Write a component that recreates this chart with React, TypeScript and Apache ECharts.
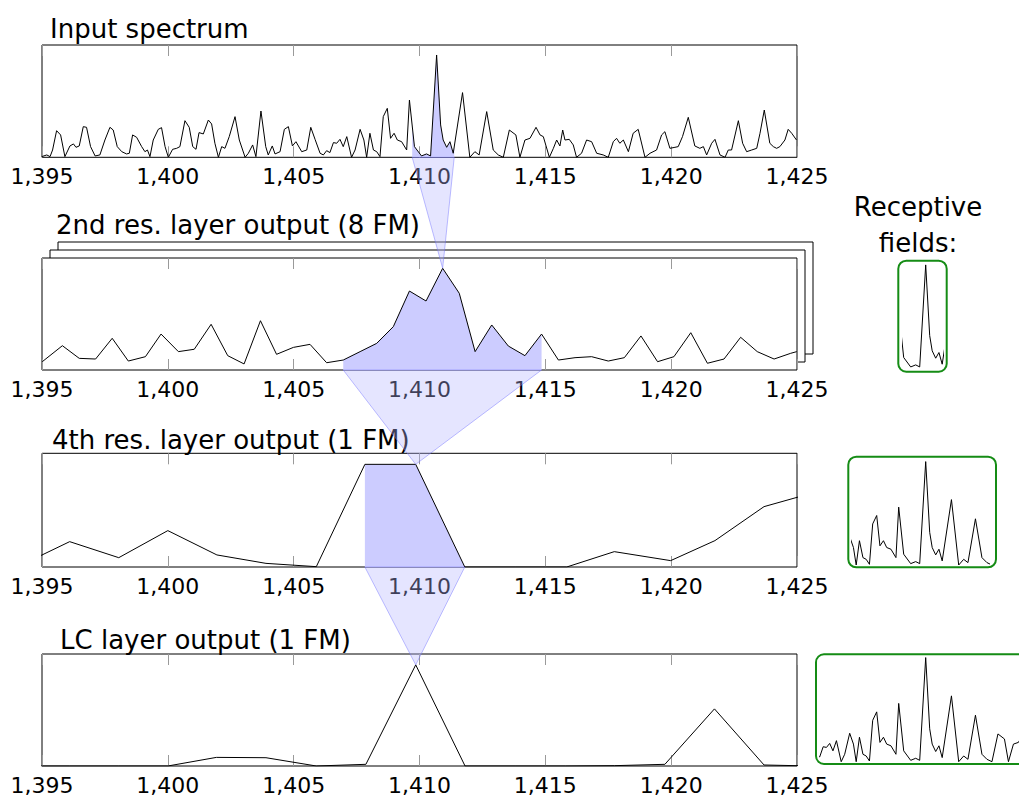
import React, { useEffect, useRef } from "react";
import * as echarts from "echarts";

// ---------------- data ----------------
const X_MIN = 1395;
const X_MAX = 1425;
const X_STEP = 5;

const spectrumX = [
  1394.99, 1395.19, 1395.32, 1395.42, 1395.58, 1395.74, 1395.91, 1396.11, 1396.25, 1396.35,
  1396.48, 1396.64, 1396.77, 1396.93, 1397.11, 1397.3, 1397.5, 1397.7, 1397.83, 1397.99,
  1398.17, 1398.36, 1398.47, 1398.6, 1398.76, 1398.96, 1399.09, 1399.19, 1399.29, 1399.42,
  1399.62, 1399.75, 1399.89, 1400.02, 1400.19, 1400.35, 1400.48, 1400.68, 1400.85, 1400.99,
  1401.12, 1401.24, 1401.41, 1401.61, 1401.74, 1401.87, 1402.01, 1402.14, 1402.27, 1402.44,
  1402.67, 1402.84, 1403.07, 1403.2, 1403.37, 1403.5, 1403.7, 1403.89, 1403.99, 1404.15,
  1404.26, 1404.46, 1404.63, 1404.79, 1404.95, 1405.09, 1405.32, 1405.52, 1405.68, 1405.85,
  1406.05, 1406.18, 1406.31, 1406.44, 1406.58, 1406.71, 1406.84, 1406.97, 1407.11, 1407.3,
  1407.44, 1407.64, 1407.79, 1407.9, 1408.03, 1408.17, 1408.3, 1408.43, 1408.56, 1408.72,
  1408.85, 1408.99, 1409.12, 1409.29, 1409.49, 1409.6, 1409.8, 1410.08, 1410.28, 1410.44,
  1410.68, 1410.84, 1410.94, 1411.08, 1411.21, 1411.34, 1411.71, 1412.0, 1412.2, 1412.37,
  1412.67, 1412.93, 1413.13, 1413.33, 1413.57, 1413.83, 1413.99, 1414.19, 1414.39, 1414.63,
  1414.79, 1414.92, 1415.16, 1415.32, 1415.45, 1415.58, 1415.69, 1415.78, 1415.95, 1416.11,
  1416.24, 1416.44, 1416.64, 1416.84, 1417.04, 1417.3, 1417.5, 1417.7, 1417.83, 1417.96,
  1418.1, 1418.3, 1418.49, 1418.69, 1418.96, 1419.16, 1419.42, 1419.62, 1419.75, 1419.95,
  1420.15, 1420.28, 1420.45, 1420.68, 1420.94, 1421.14, 1421.28, 1421.41, 1421.61, 1421.74,
  1421.94, 1422.14, 1422.27, 1422.4, 1422.67, 1422.84, 1423.0, 1423.2, 1423.4, 1423.53,
  1423.7, 1423.92, 1424.06, 1424.19, 1424.32, 1424.52, 1424.65, 1424.79, 1424.98,
];
const spectrumY = [
  0.6, 2.1, 0.6, 6.5, 23.7, 19.9, 0.6, 10.1, 11.9, 8.9,
  10.1, 27.3, 26.7, 9.5, 1.2, 2.1, 15.4, 26.7, 24.3, 9.5,
  5.0, 3.0, 3.6, 19.9, 17.8, 9.5, 5.0, 6.5, 0.6, 15.4,
  24.9, 26.4, 9.5, 0, 7.1, 8.0, 9.5, 32.6, 26.7, 9.5,
  7.1, 22.0, 20.8, 33.2, 29.7, 12.5, 0, 9.5, 8.0, 18.4,
  36.2, 15.4, 0, 3.6, 11.0, 0.6, 41.2, 9.5, 2.1, 10.1,
  3.0, 5.0, 24.9, 27.3, 10.1, 13.9, 5.0, 6.5, 26.7, 16.0,
  3.6, 2.1, 5.9, 4.2, 13.1, 12.5, 16.0, 9.5, 18.4, 0,
  6.5, 24.9, 15.4, 0, 21.4, 6.5, 5.0, 0.6, 36.2, 43.6,
  16.9, 21.4, 15.4, 13.9, 6.5, 51.0, 9.5, 1.2, 3.0, 1.2,
  91.1, 28.8, 15.4, 8.9, 13.9, 3.6, 57.6, 0, 5.0, 2.1,
  40.7, 6.5, 2.1, 0, 24.3, 19.9, 0, 15.4, 16.9, 26.7,
  19.9, 18.4, 0, 8.0, 15.4, 10.1, 24.3, 15.4, 16.0, 11.0,
  0, 3.6, 15.4, 13.9, 3.6, 2.1, 0, 13.9, 16.9, 12.5,
  15.4, 5.0, 21.4, 24.9, 0, 3.6, 6.5, 19.9, 22.8, 8.0,
  8.9, 9.5, 18.4, 35.6, 10.1, 8.0, 9.5, 2.1, 12.5, 16.0,
  2.1, 0, 6.5, 6.5, 32.6, 12.5, 5.0, 6.5, 8.0, 21.4,
  42.1, 12.5, 9.5, 8.0, 9.5, 15.4, 24.9, 21.4, 15.4,
];

const layer2X = [
  1395.01, 1395.81, 1396.48, 1397.13, 1397.79, 1398.43, 1399.11, 1399.73, 1400.42, 1401.05,
  1401.72, 1402.38, 1403.03, 1403.68, 1404.32, 1404.99, 1405.65, 1406.31, 1406.97, 1407.64,
  1408.3, 1408.96, 1409.6, 1410.26, 1410.92, 1411.58, 1412.21, 1412.87, 1413.53, 1414.19,
  1414.85, 1415.52, 1416.18, 1416.84, 1417.5, 1418.14, 1418.8, 1419.46, 1420.11, 1420.78,
  1421.44, 1422.1, 1422.76, 1423.42, 1424.09, 1424.75, 1424.99,
];
const layer2Y = [
  7.4, 21.7, 10.4, 9.8, 28.3, 8.0, 11.9, 32.1, 16.4, 18.5,
  40.8, 12.8, 5.4, 44.0, 14.0, 20.2, 22.9, 6.5, 8.9, 16.4,
  23.8, 38.7, 70.5, 61.6, 90.8, 68.5, 16.4, 40.2, 21.4, 12.8,
  32.1, 8.9, 11.0, 11.9, 8.0, 11.0, 30.4, 7.4, 11.9, 33.3,
  6.0, 9.8, 29.2, 16.4, 9.8, 14.9, 16.4,
];

const layer4X = [
  1394.15, 1396.1, 1398.05, 1400.0, 1401.95, 1403.9, 1405.9, 1407.83, 1409.85, 1411.8,
  1413.8, 1415.85, 1417.74, 1419.98, 1421.74, 1423.69, 1425.6,
];
const layer4Y = [1.5, 22.3, 8.2, 32.0, 10.6, 3.2, 0.3, 90.3, 90.3, 0, 0, 0, 13.5, 5.6, 23.2, 53.1, 65];

const lcX = [
  1394.15, 1396.1, 1398.05, 1400.0, 1401.93, 1403.9, 1405.9, 1407.87, 1409.85, 1411.81,
  1413.8, 1415.8, 1417.75, 1419.75, 1421.72, 1423.69, 1425.6,
];
const lcY = [0, 0, 0, 0, 7.7, 7.4, 0, 1.5, 90.3, 0, 0, 0, 0.3, 1.5, 51.0, 0.9, 0];

const panelTitles = [
  "Input spectrum",
  "2nd res. layer output (8 FM)",
  "4th res. layer output (1 FM)",
  "LC layer output (1 FM)",
];
const receptiveLabel = ["Receptive", "fields:"];

// receptive-field range of the highlighted unit, in each source panel
const highlightRanges = [
  [1409.71, 1411.38],
  [1406.97, 1414.85],
  [1407.83, 1411.8],
];
// highlighted unit in the next panel
const apexX = [1410.92, 1409.85, 1409.85];
// spectrum range shown in each receptive-field inset
const insetRanges = [
  [1409.76, 1411.36],
  [1407.75, 1413.2],
  [1406.45, 1414.4],
];

// ---------------- layout ----------------
const FONT = '"DejaVu Sans", "Noto Sans", sans-serif';
const PANEL_LEFT = 42;
const PANEL_WIDTH = 755;
const panelTops = [45, 258, 453.3, 654];
const panelHeights = [112.3, 112, 113.7, 113];
const titlePos = [
  [50, 29],
  [56, 225],
  [52, 440],
  [60, 640],
];
const insetGrids = [
  { left: 902.7, top: 254.8, width: 40, height: 113.5 },
  { left: 852.45, top: 451.5, width: 136.25, height: 113.5 },
  { left: 819.95, top: 647.4, width: 198.75, height: 114.3 },
];
const insetBoxes = [
  { x: 898.3, y: 260.7, w: 48.4, h: 111 },
  { x: 848.3, y: 456.7, w: 147.7, h: 110.6 },
  { x: 816, y: 654.3, w: 240, h: 109.7 },
];

// ---------------- helpers ----------------
const pairs = (xs: number[], ys: number[]) => xs.map((x, i) => [x, ys[i]]);
function interp(xs: number[], ys: number[], x: number) {
  for (let i = 0; i < xs.length - 1; i++) {
    if (x >= xs[i] && x <= xs[i + 1]) {
      return ys[i] + ((ys[i + 1] - ys[i]) * (x - xs[i])) / (xs[i + 1] - xs[i]);
    }
  }
  return x < xs[0] ? ys[0] : ys[ys.length - 1];
}
function segment(xs: number[], ys: number[], lo: number, hi: number) {
  const pts: number[][] = [[lo, interp(xs, ys, lo)]];
  xs.forEach((x, i) => {
    if (x > lo + 1e-6 && x < hi - 1e-6) pts.push([x, ys[i]]);
  });
  pts.push([hi, interp(xs, ys, hi)]);
  return pts;
}
const fmt = (v: number) => String(v).replace(/\B(?=(\d{3})+(?!\d))/g, ",");

const panelData = [
  [spectrumX, spectrumY],
  [layer2X, layer2Y],
  [layer4X, layer4Y],
  [lcX, lcY],
];

function buildOption(): any {
  const grids: any[] = [];
  const xAxes: any[] = [];
  const yAxes: any[] = [];
  const series: any[] = [];

  panelTops.forEach((top, i) => {
    grids.push({
      left: PANEL_LEFT,
      top,
      width: PANEL_WIDTH,
      height: panelHeights[i],
      show: true,
      borderColor: "#000",
      borderWidth: 1,
      backgroundColor: "#fff",
      containLabel: false,
    });
  });
  insetGrids.forEach((g) => grids.push({ ...g, show: false, containLabel: false }));

  const tickAxis = (gridIndex: number, position: string, labels: boolean) => ({
    type: "value",
    gridIndex,
    position,
    min: X_MIN,
    max: X_MAX,
    interval: X_STEP,
    axisLine: { show: false },
    axisTick: { show: true, inside: true, length: 11, lineStyle: { color: "#9a9a9a", width: 1 } },
    splitLine: { show: false },
    axisLabel: labels
      ? { show: true, formatter: fmt, fontSize: 22, color: "#000", fontFamily: FONT, margin: 8 }
      : { show: false },
  });
  for (let i = 0; i < 4; i++) xAxes.push(tickAxis(i, "bottom", true));
  for (let i = 0; i < 4; i++) xAxes.push(tickAxis(i, "top", false));
  insetRanges.forEach((r, k) => {
    xAxes.push({ type: "value", gridIndex: 4 + k, min: r[0], max: r[1], show: false });
  });
  for (let i = 0; i < 7; i++) {
    yAxes.push({ type: "value", gridIndex: i, min: 0, max: 100, show: false });
  }

  panelData.forEach(([xs, ys], i) => {
    if (i < 3) {
      const [lo, hi] = highlightRanges[i];
      series.push({
        type: "line",
        xAxisIndex: i,
        yAxisIndex: i,
        data: segment(xs, ys, lo, hi),
        showSymbol: false,
        lineStyle: { width: 0 },
        areaStyle: { color: "#ccccff", opacity: 1 },
        z: 2,
        silent: true,
      });
    }
    series.push({
      type: "line",
      xAxisIndex: i,
      yAxisIndex: i,
      data: pairs(xs, ys),
      showSymbol: false,
      clip: true,
      lineStyle: { color: "#000", width: 1 },
      z: 3,
      silent: true,
    });
  });
  insetRanges.forEach((_, k) => {
    series.push({
      type: "line",
      xAxisIndex: 8 + k,
      yAxisIndex: 4 + k,
      data: pairs(spectrumX, spectrumY),
      showSymbol: false,
      clip: true,
      lineStyle: { color: "#000", width: 1 },
      z: 3,
      silent: true,
    });
  });

  return {
    animation: false,
    backgroundColor: "#fff",
    grid: grids,
    xAxis: xAxes,
    yAxis: yAxes,
    series,
  };
}

export default function App() {
  const ref = useRef<HTMLDivElement>(null);
  useEffect(() => {
    const chart = echarts.init(ref.current!, undefined, { renderer: "svg" });
    chart.setOption(buildOption());

    const px = (g: number, x: number, y: number) =>
      chart.convertToPixel({ gridIndex: g } as any, [x, y]) as number[];

    const elements: any[] = [];

    // stacked feature-map frames behind the 2nd panel
    const tl = px(1, X_MIN, 100);
    const br = px(1, X_MAX, 0);
    [16, 8].forEach((off) => {
      elements.push({
        type: "rect",
        z: -5,
        shape: { x: tl[0] + off, y: tl[1] - off, width: br[0] - tl[0], height: br[1] - tl[1] },
        style: { fill: "#fff", stroke: "#000", lineWidth: 1 },
        silent: true,
      });
    });

    // panel titles
    panelTitles.forEach((t, i) => {
      elements.push({
        type: "text",
        x: titlePos[i][0],
        y: titlePos[i][1],
        z: 5,
        style: {
          text: t,
          fontSize: 26,
          fontFamily: FONT,
          fill: "#000",
          align: "left",
          verticalAlign: "middle",
          textAlign: "left",
          textVerticalAlign: "middle",
        },
        silent: true,
      });
    });
    receptiveLabel.forEach((t, i) => {
      elements.push({
        type: "text",
        x: 918,
        y: i === 0 ? 207 : 243,
        z: 5,
        style: {
          text: t,
          fontSize: 26,
          fontFamily: FONT,
          fill: "#000",
          align: "center",
          verticalAlign: "middle",
          textAlign: "center",
          textVerticalAlign: "middle",
        },
        silent: true,
      });
    });

    // receptive-field inset frames
    insetBoxes.forEach((b) => {
      elements.push({
        type: "rect",
        z: 6,
        shape: { x: b.x, y: b.y, width: b.w, height: b.h, r: 8 },
        style: { fill: "none", stroke: "#158c15", lineWidth: 2 },
        silent: true,
      });
    });

    // funnels linking highlighted ranges to the next layer's unit
    highlightRanges.forEach(([lo, hi], i) => {
      const [txs, tys] = panelData[i + 1];
      const a = px(i, lo, 0);
      const b = px(i, hi, 0);
      const c = px(i + 1, apexX[i], interp(txs, tys, apexX[i]));
      elements.push({
        type: "polygon",
        z: 100,
        shape: { points: [a, b, c] },
        style: { fill: "rgba(180,180,255,0.35)", stroke: "rgba(110,110,255,0.45)", lineWidth: 1 },
        silent: true,
      });
    });

    chart.setOption({ graphic: { elements } });
    return () => chart.dispose();
  }, []);
  return (
    <div
      ref={ref}
      style={{ position: "fixed", left: 0, top: 0, width: 1019, height: 796, background: "#fff" }}
    />
  );
}
